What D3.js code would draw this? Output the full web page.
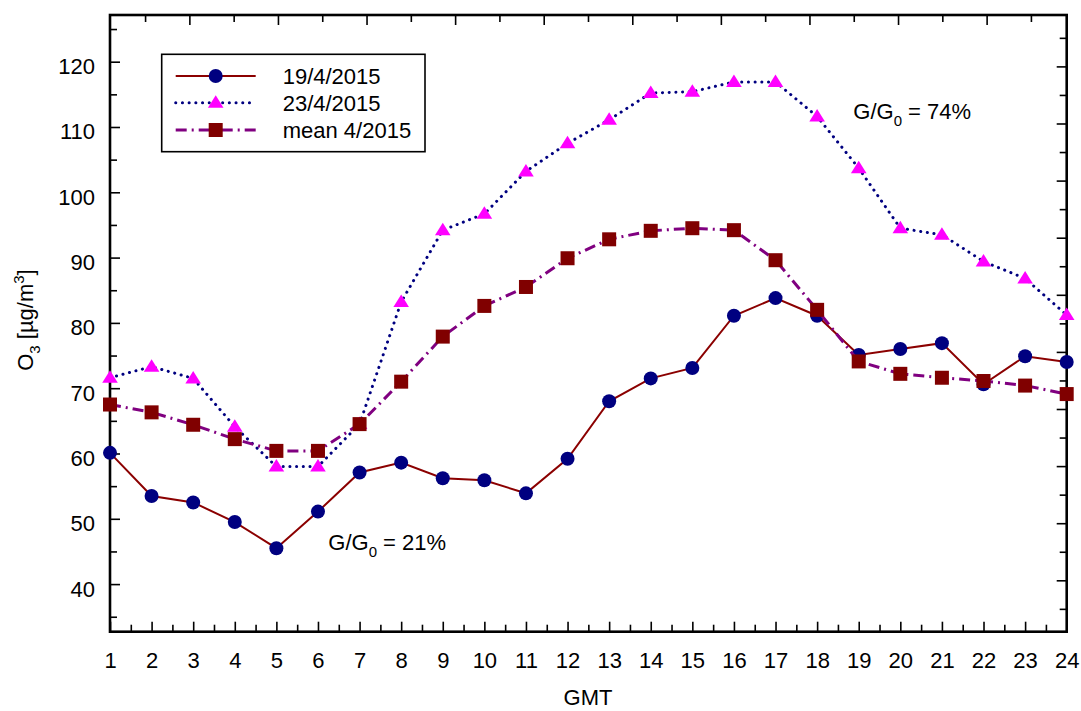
<!DOCTYPE html>
<html>
<head>
<meta charset="utf-8">
<script src="https://cdn.jsdelivr.net/npm/d3@7"></script>
<style>
  html, body { margin: 0; padding: 0; background: #fff; }
  svg { display: block; font-family: "Liberation Sans", Arial, sans-serif; }
</style>
</head>
<body>
<svg id="chart" width="1081" height="711"></svg>
<script>
// Hourly ozone concentrations (GMT hour 1..24)
const hours = d3.range(1, 25);
const o3_19apr = [60.1, 53.5, 52.5, 49.5, 45.5, 51.1, 57.1, 58.6, 56.2, 55.9, 53.9, 59.2,
                  68.0, 71.5, 73.1, 81.1, 83.8, 81.1, 75.1, 76.0, 76.9, 70.6, 74.9, 74.0];
const o3_23apr = [71.6, 73.3, 71.5, 64.1, 58.0, 58.0, 64.5, 83.2, 94.2, 96.7, 103.2, 107.5,
                  111.1, 115.2, 115.4, 116.9, 116.9, 111.6, 103.7, 94.5, 93.5, 89.4, 86.8, 81.2];
const o3_mean  = [67.5, 66.3, 64.4, 62.2, 60.4, 60.4, 64.5, 71.0, 77.9, 82.6, 85.5, 89.9,
                  92.8, 94.1, 94.5, 94.2, 89.6, 82.0, 74.1, 72.2, 71.6, 71.1, 70.4, 69.1];
const seriesNames = ["19/4/2015", "23/4/2015", "mean 4/2015"];
const yTickValues = [40, 50, 60, 70, 80, 90, 100, 110, 120];

const FS = 22;
const svg = d3.select("#chart");
const L = 110, R = 1066.7, T = 15, B = 631.7;

const x = d3.scaleLinear().domain([1, 24]).range([L, R]);
const y = d3.scaleLinear().domain([32.71, 127.15]).range([B, T]);
// secondary (unlabelled) scales for the top and right frame ticks
const xTop = d3.scaleLinear().domain([0.104, 10.904]).range([L, R]);
const yRight = d3.scaleLinear().domain([0.1, 10.9]).range([B, T]);

const styles = [
  { values: o3_19apr, line: "#8B0000", width: 2, dash: null, cap: "butt", marker: "circle", fill: "#000080" },
  { values: o3_23apr, line: "#000080", width: 3, dash: "0.1 6.6", cap: "round", marker: "triangle", fill: "#FF00FF" },
  { values: o3_mean,  line: "#800080", width: 3, dash: "11 5 2 5", cap: "butt", marker: "square", fill: "#800000" }
];

function tickAxis(axis, g, values, size) {
  g.call(axis.tickValues(values).tickSize(size).tickFormat(""));
  g.select(".domain").remove();
  g.selectAll(".tick line").attr("stroke", "#000").attr("stroke-width", 1.6);
}

// minor ticks
tickAxis(d3.axisBottom(x), svg.append("g").attr("transform", `translate(0,${B})`),
  d3.range(1.5, 24, 1), -7);
tickAxis(d3.axisLeft(y), svg.append("g").attr("transform", `translate(${L},0)`),
  d3.range(35, 127, 10), -7);
tickAxis(d3.axisTop(xTop), svg.append("g").attr("transform", `translate(0,${T})`),
  d3.range(0.5, 11, 1), -7);
tickAxis(d3.axisRight(yRight), svg.append("g").attr("transform", `translate(${R},0)`),
  d3.range(0.5, 11, 1), -7);
// major ticks top / right
tickAxis(d3.axisTop(xTop), svg.append("g").attr("transform", `translate(0,${T})`),
  d3.range(1, 11), -10);
tickAxis(d3.axisRight(yRight), svg.append("g").attr("transform", `translate(${R},0)`),
  d3.range(1, 11), -10);

// labelled bottom axis
const gx = svg.append("g").attr("transform", `translate(0,${B})`)
  .call(d3.axisBottom(x).tickValues(hours).tickSize(-10).tickPadding(20.7).tickFormat(d3.format("d")));
gx.select(".domain").remove();
gx.selectAll(".tick line").attr("stroke", "#000").attr("stroke-width", 1.6);
gx.selectAll("text").attr("font-size", FS).attr("fill", "#000")
  .attr("font-family", "Liberation Sans, Arial, sans-serif");

// labelled left axis
const gy = svg.append("g").attr("transform", `translate(${L},0)`)
  .call(d3.axisLeft(y).tickValues(yTickValues).tickSize(-10).tickPadding(15).tickFormat(d3.format("d")));
gy.select(".domain").remove();
gy.selectAll(".tick line").attr("stroke", "#000").attr("stroke-width", 1.6);
gy.selectAll("text").attr("font-size", FS).attr("fill", "#000").attr("dy", "12px")
  .attr("font-family", "Liberation Sans, Arial, sans-serif");

// frame
svg.append("rect").attr("x", L).attr("y", T).attr("width", R - L).attr("height", B - T)
  .attr("fill", "none").attr("stroke", "#000").attr("stroke-width", 2.6);

// markers
function drawMarker(g, type, cx, cy, fill) {
  if (type === "circle") {
    g.append("circle").attr("cx", cx).attr("cy", cy).attr("r", 7).attr("fill", fill);
  } else if (type === "triangle") {
    g.append("path").attr("d", `M${cx},${cy - 7.5}L${cx + 7.8},${cy + 5}L${cx - 7.8},${cy + 5}Z`)
      .attr("fill", fill);
  } else {
    g.append("rect").attr("x", cx - 7).attr("y", cy - 7).attr("width", 14).attr("height", 14)
      .attr("fill", fill);
  }
}

const line = d3.line().x((d, i) => x(hours[i])).y(d => y(d));
styles.forEach(s => {
  const g = svg.append("g");
  g.append("path").datum(s.values).attr("d", line).attr("fill", "none")
    .attr("stroke", s.line).attr("stroke-width", s.width)
    .attr("stroke-dasharray", s.dash).attr("stroke-linecap", s.cap);
  s.values.forEach((v, i) => drawMarker(g, s.marker, x(hours[i]), y(v), s.fill));
});

// legend
const lg = svg.append("g");
lg.append("rect").attr("x", 161.7).attr("y", 54.3).attr("width", 263.3).attr("height", 97.4)
  .attr("fill", "#fff").attr("stroke", "#000").attr("stroke-width", 1.6);
const rowsY = [76, 102.7, 130];
styles.forEach((s, i) => {
  lg.append("line").attr("x1", 175.7).attr("x2", 255.7).attr("y1", rowsY[i]).attr("y2", rowsY[i])
    .attr("stroke", s.line).attr("stroke-width", s.width)
    .attr("stroke-dasharray", s.dash).attr("stroke-linecap", s.cap);
  drawMarker(lg, s.marker, 215.7, rowsY[i], s.fill);
  lg.append("text").attr("x", 282.7).attr("y", rowsY[i] + 8).attr("font-size", FS)
    .text(seriesNames[i]);
});

// irradiance ratio annotations
function ratioLabel(px, py, pct) {
  const t = svg.append("text").attr("x", px).attr("y", py).attr("font-size", FS);
  t.append("tspan").text("G/G");
  t.append("tspan").attr("font-size", 15).attr("dy", 7).text("0");
  t.append("tspan").attr("dy", -7).text(" = " + pct);
}
ratioLabel(853.3, 119, "74%");
ratioLabel(328.3, 550, "21%");

// axis titles
svg.append("text").attr("x", 588).attr("y", 705).attr("text-anchor", "middle")
  .attr("font-size", FS).text("GMT");
const yt = svg.append("text").attr("transform", "translate(33,320) rotate(-90)")
  .attr("text-anchor", "middle").attr("font-size", FS);
yt.append("tspan").text("O");
yt.append("tspan").attr("font-size", 15).attr("dy", 7).text("3");
yt.append("tspan").attr("dy", -7).text(" [µg/m");
yt.append("tspan").attr("font-size", 15).attr("dy", -9).text("3");
yt.append("tspan").attr("dy", 9).text("]");
</script>
</body>
</html>
